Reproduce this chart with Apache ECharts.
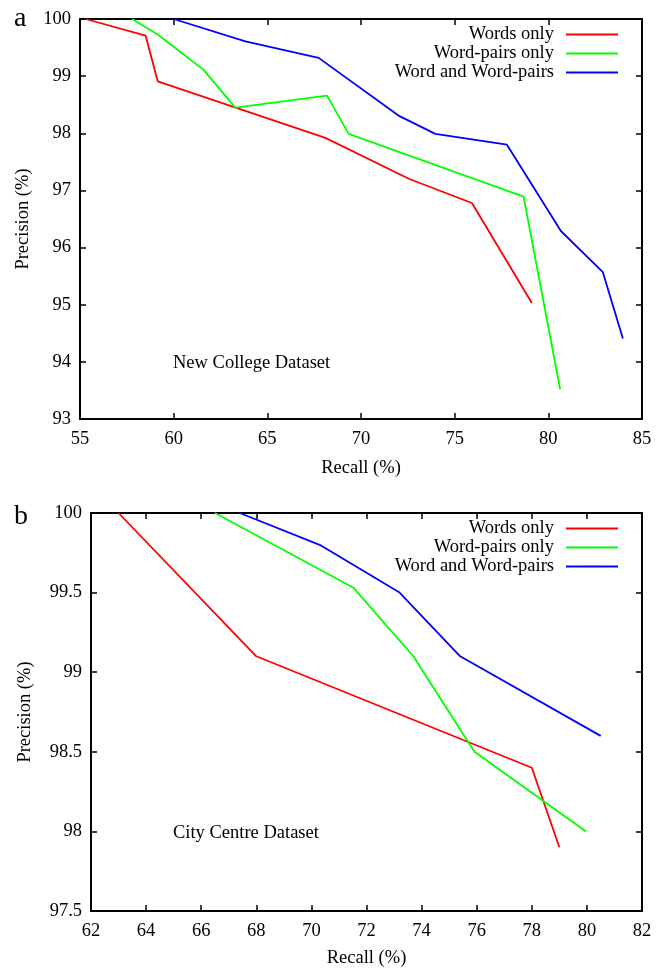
<!doctype html>
<html>
    <head>
        <meta charset="utf-8">
        <style>
            html, body { margin: 0; padding: 0; background: #fff; }
            #main { width: 670px; height: 969px; }
        </style>
    </head>
    <body>
        <div id="main"></div>
        <script src="https://cdn.jsdelivr.net/npm/echarts@6/dist/echarts.min.js"></script>
        <script>
            // series names (shared by both panels)
            var names = ['Words only', 'Word-pairs only', 'Word and Word-pairs'];
            var colors = ['#ff0000', '#00ff00', '#0000ff'];

            // panel a: New College, [recall, precision]
            var ncWords = [[55.3, 100], [58.5, 99.71], [59.15, 98.91], [68.1, 97.92], [72.58, 97.2], [75.92, 96.78], [79.12, 95.03]];
            var ncPairs = [[57.78, 100], [59.15, 99.73], [61.6, 99.11], [63.29, 98.45], [68.19, 98.66], [69.34, 97.99], [78.68, 96.89], [80.63, 93.52]];
            var ncBoth = [[60.0, 100], [63.83, 99.61], [67.74, 99.32], [72.0, 98.31], [73.97, 97.99], [77.79, 97.8], [80.67, 96.29], [82.91, 95.57], [83.98, 94.41]];

            // panel b: City Centre
            var ccWords = [[63, 100], [68, 99.1], [78, 98.4], [79, 97.9]];
            var ccPairs = [[66.5, 100], [71.53, 99.53], [73.7, 99.1], [75.92, 98.5], [79.97, 98.0]];
            var ccBoth = [[67.4, 100], [70.3, 99.8], [73.2, 99.5], [75.4, 99.1], [80.5, 98.6]];

            var font = 'Liberation Serif';
            var fs = 18.5;

            function axis(grid, pos, min, max, step, labels, name, gap) {
                return {
                    type: 'value',
                    gridIndex: grid,
                    position: pos,
                    min: min,
                    max: max,
                    interval: step,
                    name: name || '',
                    nameLocation: 'middle',
                    nameGap: gap || 0,
                    nameTextStyle: { fontFamily: font, fontSize: fs, color: '#000' },
                    axisLine: { show: true, onZero: false, lineStyle: { color: '#000', width: 2 } },
                    axisTick: { show: true, inside: true, length: 6, lineStyle: { color: '#000', width: 1.5 } },
                    axisLabel: {
                        show: labels,
                        showMinLabel: true,
                        showMaxLabel: true,
                        margin: (pos === 'left') ? 9 : 11,
                        fontFamily: font,
                        fontSize: fs,
                        color: '#000'
                    },
                    splitLine: { show: false }
                };
            }

            function line(i, data, ax) {
                return {
                    type: 'line',
                    name: names[i],
                    data: data,
                    xAxisIndex: ax,
                    yAxisIndex: ax,
                    symbol: 'none',
                    animation: false,
                    lineStyle: { color: colors[i], width: 1.8 },
                    itemStyle: { color: colors[i] }
                };
            }

            function legend(top) {
                return {
                    data: names,
                    orient: 'vertical',
                    right: 51,
                    top: top,
                    padding: 0,
                    align: 'right',
                    itemWidth: 52,
                    itemHeight: 2,
                    itemGap: 0,
                    selectedMode: false,
                    textStyle: { fontFamily: font, fontSize: fs, color: '#000', padding: [0, 7, 0, 0] }
                };
            }

            function label(text, left, top, size) {
                return {
                    text: text,
                    left: left,
                    top: top,
                    padding: 0,
                    textStyle: { fontFamily: font, fontSize: size, fontWeight: 'normal', color: '#000' }
                };
            }

            var chart = echarts.init(document.getElementById('main'));

            chart.setOption({
                backgroundColor: '#fff',
                animation: false,
                title: [
                    label('a', 14, 5, 28),
                    label('b', 14, 503, 28),
                    label('New College Dataset', 173, 354, fs),
                    label('City Centre Dataset', 173, 824, fs)
                ],
                legend: [legend(25), legend(519)],
                grid: [
                    { left: 80, width: 562, top: 19, height: 400 },
                    { left: 91, width: 551, top: 513, height: 399 }
                ],
                xAxis: [
                    axis(0, 'bottom', 55, 85, 5, true, 'Recall (%)', 40),
                    axis(0, 'top', 55, 85, 5, false),
                    axis(1, 'bottom', 62, 82, 2, true, 'Recall (%)', 38),
                    axis(1, 'top', 62, 82, 2, false)
                ],
                yAxis: [
                    axis(0, 'left', 93, 100, 1, true, 'Precision (%)', 42),
                    axis(0, 'right', 93, 100, 1, false),
                    axis(1, 'left', 97.5, 100, 0.5, true, 'Precision (%)', 56),
                    axis(1, 'right', 97.5, 100, 0.5, false)
                ],
                series: [
                    line(0, ncWords, 0),
                    line(1, ncPairs, 0),
                    line(2, ncBoth, 0),
                    line(0, ccWords, 2),
                    line(1, ccPairs, 2),
                    line(2, ccBoth, 2)
                ]
            });

            window.onresize = chart.resize;
        </script>
    </body>
</html>
